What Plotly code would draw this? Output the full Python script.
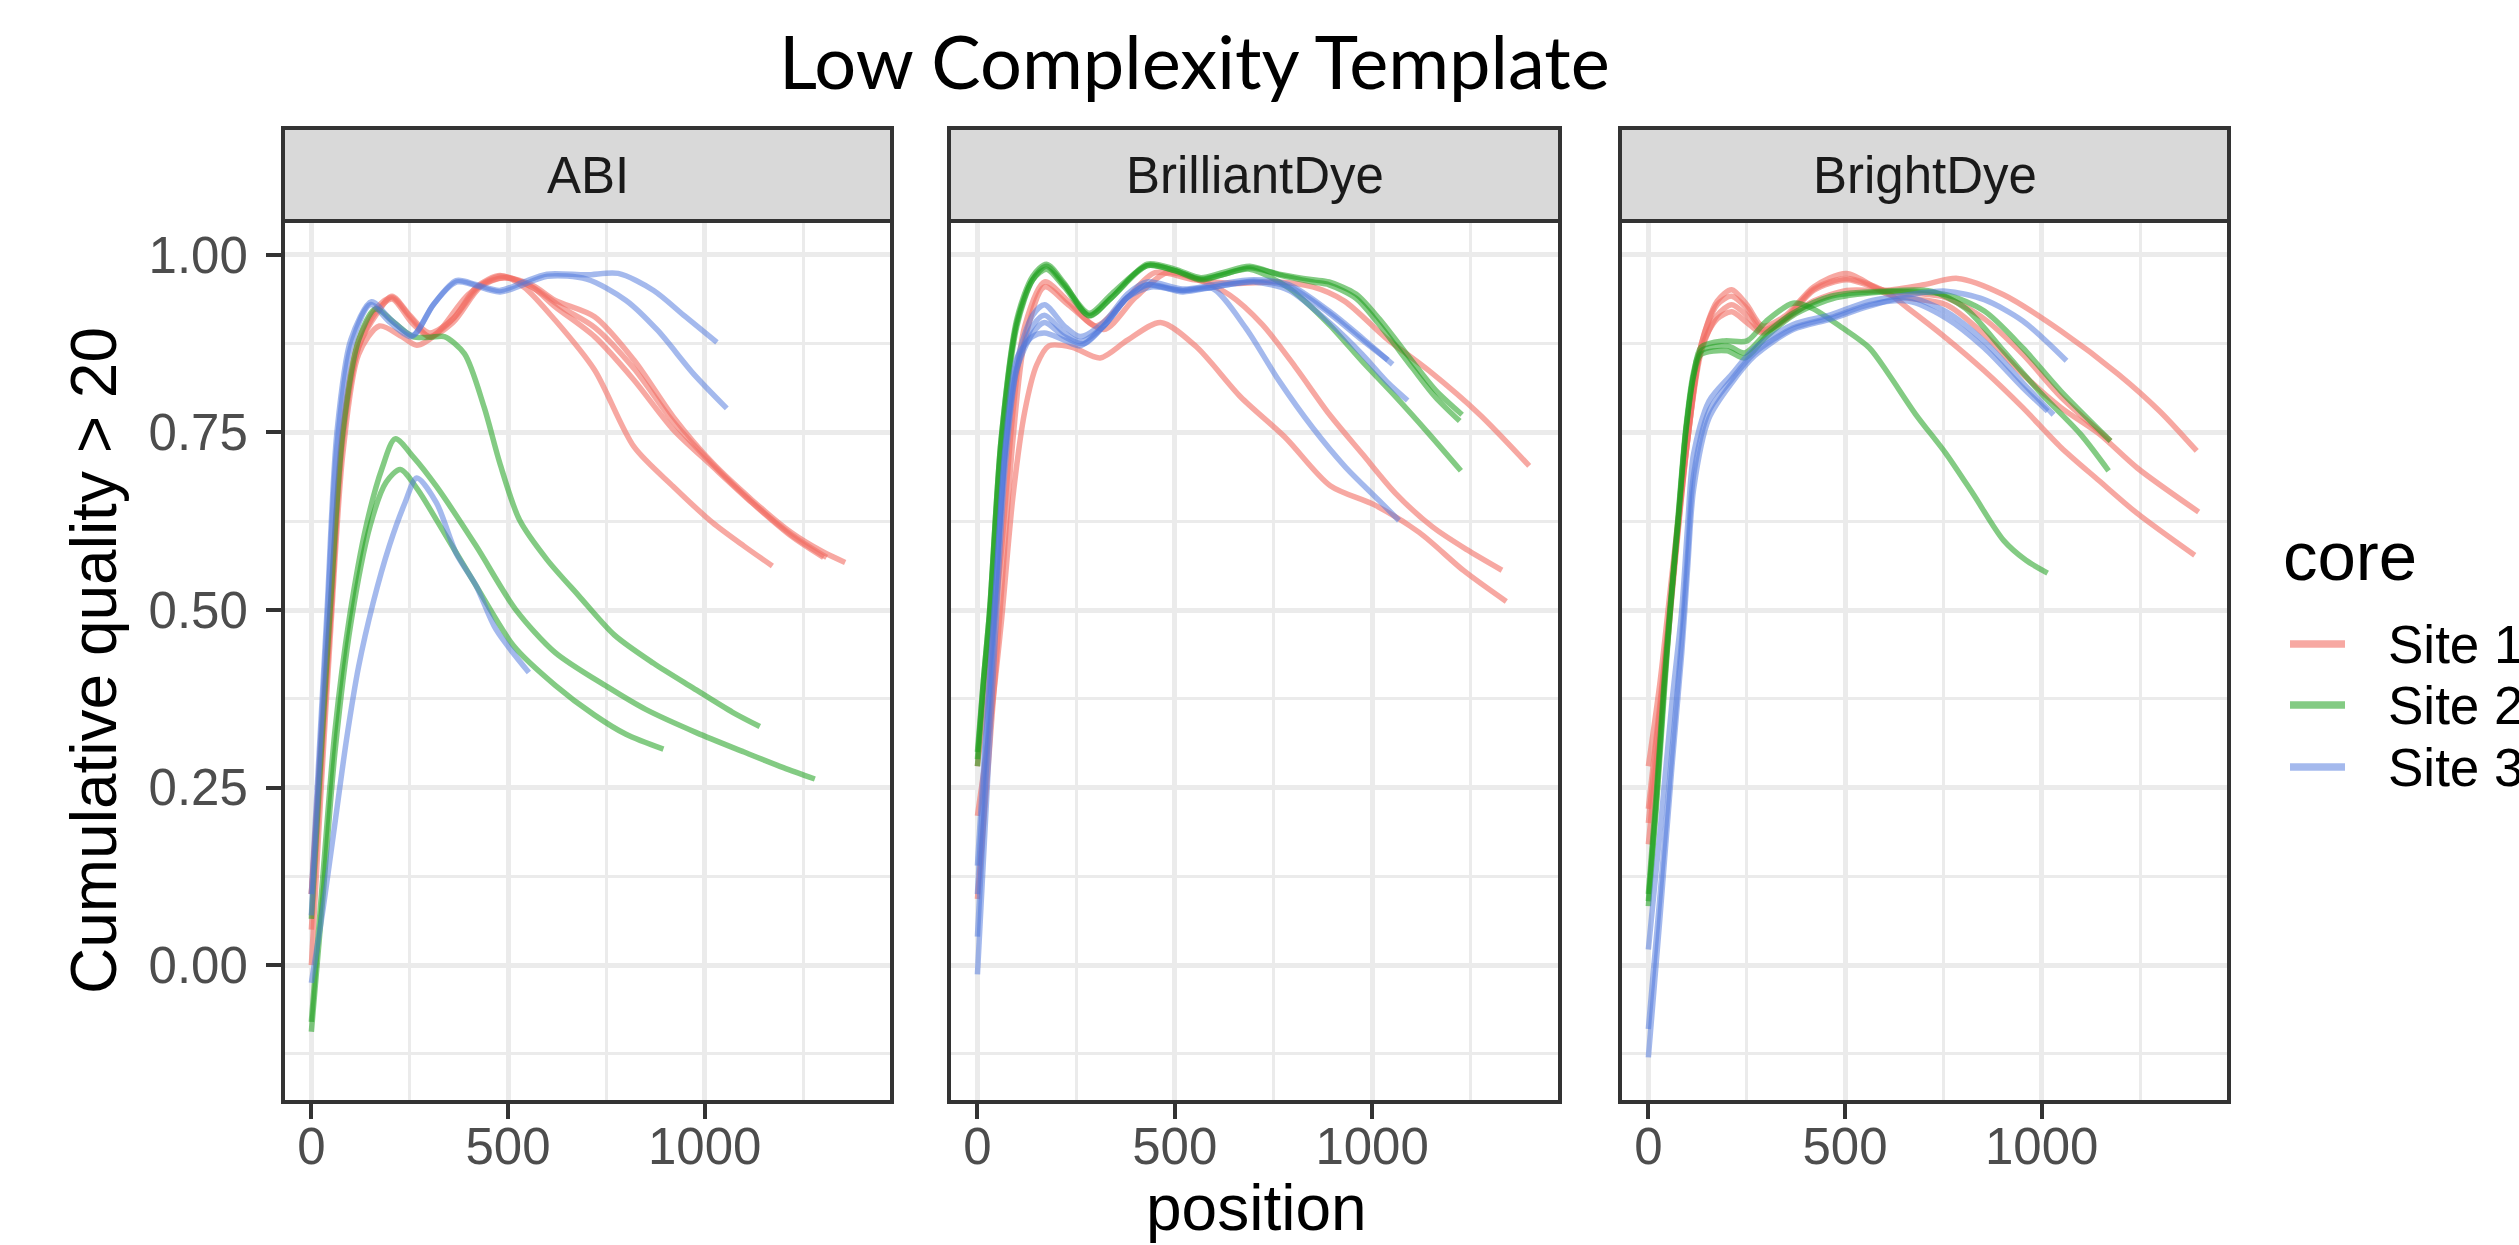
import plotly.graph_objects as go

W, H = 2519, 1245

# ---------------- data ----------------
FACETS = ["ABI", "BrilliantDye", "BrightDye"]
SITES = ["Site 1", "Site 2", "Site 3"]
SITE_COLORS = ["rgba(242,110,100,0.6)", "rgba(30,160,30,0.55)", "rgba(80,120,220,0.52)"]
X_TICKS = [0, 500, 1000]
X_MINOR = [250, 750, 1250]
Y_TICKS = [0.0, 0.25, 0.5, 0.75, 1.0]
Y_MINOR = [-0.125, 0.125, 0.375, 0.625, 0.875]
TITLE = "Low Complexity Template"
X_TITLE = "position"
Y_TITLE = "Cumulative quality > 20"
LEGEND_TITLE = "core"

# ABI, Site 1
ABI_S1_A_X = [0, 25, 50, 80, 120, 170, 205, 250, 300, 360, 420, 480, 540, 620, 720, 820, 920, 1020, 1100, 1172]
ABI_S1_A_Y = [0.10, 0.30, 0.50, 0.75, 0.87, 0.92, 0.942, 0.915, 0.89, 0.91, 0.955, 0.971, 0.955, 0.908, 0.838, 0.73, 0.674, 0.623, 0.59, 0.562]
ABI_S1_B_X = [0, 25, 50, 80, 120, 173, 230, 268, 320, 400, 480, 560, 620, 720, 820, 920, 1020, 1120, 1220, 1302]
ABI_S1_B_Y = [0.0, 0.25, 0.48, 0.72, 0.86, 0.90, 0.885, 0.873, 0.89, 0.945, 0.97, 0.955, 0.927, 0.885, 0.824, 0.754, 0.702, 0.651, 0.604, 0.574]
ABI_S1_C_X = [0, 25, 50, 80, 120, 165, 205, 255, 300, 360, 430, 490, 560, 620, 720, 820, 920, 1020, 1120, 1220, 1300, 1357]
ABI_S1_C_Y = [0.10, 0.32, 0.52, 0.76, 0.88, 0.925, 0.94, 0.91, 0.885, 0.905, 0.955, 0.968, 0.958, 0.936, 0.913, 0.852, 0.772, 0.707, 0.655, 0.609, 0.582, 0.567]
ABI_S1_D_X = [0, 25, 50, 80, 120, 165, 205, 255, 300, 360, 430, 490, 560, 640, 720, 820, 920, 1020, 1120, 1220, 1310]
ABI_S1_D_Y = [0.05, 0.28, 0.50, 0.74, 0.87, 0.92, 0.938, 0.905, 0.885, 0.91, 0.957, 0.968, 0.955, 0.925, 0.898, 0.84, 0.765, 0.705, 0.652, 0.606, 0.574]
# ABI, Site 2
ABI_S2_A_X = [0, 25, 50, 80, 120, 163, 210, 258, 300, 338, 389, 439, 479, 529, 599, 680, 770, 870, 971, 1071, 1140]
ABI_S2_A_Y = [0.065, 0.30, 0.52, 0.75, 0.88, 0.924, 0.905, 0.885, 0.884, 0.885, 0.861, 0.786, 0.707, 0.627, 0.571, 0.52, 0.465, 0.425, 0.39, 0.356, 0.336]
ABI_S2_B_X = [0, 30, 60, 97, 140, 180, 213, 260, 318, 419, 519, 620, 752, 850, 980, 1100, 1200, 1280]
ABI_S2_B_Y = [-0.08, 0.13, 0.33, 0.49, 0.62, 0.70, 0.741, 0.715, 0.674, 0.59, 0.501, 0.44, 0.392, 0.36, 0.327, 0.30, 0.278, 0.262]
ABI_S2_C_X = [0, 30, 60, 100, 150, 190, 226, 270, 318, 419, 515, 620, 720, 800, 895]
ABI_S2_C_Y = [-0.094, 0.10, 0.30, 0.48, 0.62, 0.68, 0.698, 0.67, 0.627, 0.534, 0.449, 0.394, 0.352, 0.325, 0.304]
# ABI, Site 3
ABI_S3_A_X = [0, 20, 40, 65, 100, 153, 200, 258, 310, 368, 420, 479, 540, 599, 700, 780, 870, 951, 1031]
ABI_S3_A_Y = [0.10, 0.30, 0.50, 0.75, 0.88, 0.934, 0.91, 0.887, 0.93, 0.964, 0.958, 0.95, 0.962, 0.973, 0.972, 0.974, 0.95, 0.913, 0.877]
ABI_S3_B_X = [0, 20, 40, 65, 100, 150, 200, 255, 310, 370, 480, 600, 700, 800, 880, 971, 1056]
ABI_S3_B_Y = [0.07, 0.28, 0.48, 0.73, 0.87, 0.93, 0.905, 0.885, 0.93, 0.962, 0.948, 0.97, 0.966, 0.936, 0.894, 0.833, 0.784]
ABI_S3_C_X = [0, 30, 60, 90, 120, 157, 198, 238, 268, 318, 368, 419, 469, 553]
ABI_S3_C_Y = [-0.025, 0.08, 0.20, 0.32, 0.42, 0.51, 0.59, 0.651, 0.686, 0.651, 0.58, 0.534, 0.473, 0.412]

# BrilliantDye, Site 1
BRL_S1_A_X = [0, 30, 60, 90, 120, 150, 181, 240, 311, 380, 464, 554, 667, 780, 894, 1006, 1120, 1233, 1340]
BRL_S1_A_Y = [0.21, 0.33, 0.48, 0.66, 0.78, 0.845, 0.872, 0.87, 0.855, 0.88, 0.905, 0.871, 0.80, 0.743, 0.675, 0.648, 0.609, 0.555, 0.512]
BRL_S1_B_X = [0, 30, 60, 90, 120, 170, 230, 320, 400, 480, 560, 638, 722, 807, 891, 975, 1060, 1153, 1240, 1329]
BRL_S1_B_Y = [0.093, 0.30, 0.52, 0.74, 0.88, 0.955, 0.93, 0.895, 0.94, 0.975, 0.965, 0.944, 0.902, 0.841, 0.776, 0.72, 0.664, 0.617, 0.585, 0.556]
BRL_S1_C_X = [0, 30, 60, 90, 120, 170, 230, 300, 380, 450, 550, 650, 760, 850, 930, 1035, 1144, 1271, 1398]
BRL_S1_C_Y = [0.28, 0.42, 0.58, 0.78, 0.90, 0.962, 0.935, 0.90, 0.94, 0.975, 0.965, 0.96, 0.962, 0.955, 0.935, 0.883, 0.837, 0.776, 0.703]
# BrilliantDye, Site 2
BRL_S2_A_X = [0, 15, 31, 60, 100, 140, 175, 220, 283, 340, 430, 500, 566, 620, 690, 764, 850, 891, 959, 1018, 1102, 1160, 1222]
BRL_S2_A_Y = [0.30, 0.40, 0.50, 0.74, 0.91, 0.97, 0.987, 0.96, 0.914, 0.94, 0.987, 0.98, 0.968, 0.975, 0.984, 0.972, 0.962, 0.958, 0.939, 0.902, 0.841, 0.80, 0.766]
BRL_S2_B_X = [0, 15, 31, 60, 100, 140, 175, 220, 283, 340, 430, 500, 566, 620, 690, 764, 850, 891, 959, 1018, 1102, 1160, 1228]
BRL_S2_B_Y = [0.28, 0.39, 0.49, 0.73, 0.90, 0.965, 0.984, 0.958, 0.918, 0.945, 0.985, 0.978, 0.966, 0.972, 0.982, 0.973, 0.965, 0.962, 0.945, 0.91, 0.85, 0.81, 0.775]
BRL_S2_C_X = [0, 15, 31, 60, 100, 140, 175, 220, 283, 340, 430, 500, 566, 620, 690, 790, 891, 975, 1060, 1144, 1225]
BRL_S2_C_Y = [0.29, 0.40, 0.50, 0.74, 0.905, 0.965, 0.98, 0.955, 0.915, 0.94, 0.985, 0.978, 0.965, 0.972, 0.98, 0.953, 0.902, 0.85, 0.80, 0.748, 0.696]
# BrilliantDye, Site 3
BRL_S3_A_X = [0, 20, 45, 70, 100, 140, 170, 220, 260, 320, 380, 430, 520, 600, 700, 790, 891, 975, 1052]
BRL_S3_A_Y = [0.04, 0.25, 0.50, 0.72, 0.85, 0.915, 0.93, 0.90, 0.885, 0.905, 0.945, 0.962, 0.952, 0.958, 0.965, 0.958, 0.921, 0.883, 0.846]
BRL_S3_B_X = [0, 20, 45, 70, 100, 140, 170, 220, 260, 320, 380, 430, 520, 600, 700, 790, 891, 975, 1040, 1090]
BRL_S3_B_Y = [-0.013, 0.20, 0.46, 0.70, 0.84, 0.90, 0.915, 0.89, 0.878, 0.90, 0.94, 0.958, 0.948, 0.955, 0.962, 0.95, 0.905, 0.86, 0.82, 0.795]
BRL_S3_C_X = [0, 20, 45, 70, 100, 140, 170, 220, 270, 320, 380, 440, 520, 595, 680, 764, 849, 933, 1018, 1068]
BRL_S3_C_Y = [0.14, 0.32, 0.52, 0.72, 0.84, 0.89, 0.905, 0.885, 0.875, 0.90, 0.94, 0.955, 0.95, 0.953, 0.897, 0.823, 0.757, 0.701, 0.654, 0.626]
BRL_S3_D_X = [0, 20, 45, 70, 100, 140, 170, 220, 260, 320, 380, 430, 520, 600, 700, 790, 891, 975, 1040]
BRL_S3_D_Y = [0.10, 0.30, 0.52, 0.73, 0.855, 0.885, 0.89, 0.88, 0.872, 0.90, 0.94, 0.958, 0.95, 0.955, 0.963, 0.955, 0.918, 0.88, 0.852]

# BrightDye, Site 1
BRT_S1_A_X = [0, 30, 60, 100, 135, 175, 212, 250, 290, 350, 420, 504, 601, 700, 786, 903, 1049, 1195, 1300, 1394]
BRT_S1_A_Y = [0.28, 0.40, 0.55, 0.74, 0.87, 0.91, 0.92, 0.905, 0.89, 0.91, 0.935, 0.95, 0.95, 0.958, 0.967, 0.944, 0.893, 0.832, 0.78, 0.724]
BRT_S1_B_X = [0, 30, 60, 100, 135, 175, 212, 250, 290, 350, 420, 504, 611, 757, 854, 952, 1049, 1146, 1243, 1399]
BRT_S1_B_Y = [0.17, 0.34, 0.52, 0.74, 0.875, 0.935, 0.951, 0.93, 0.90, 0.915, 0.955, 0.974, 0.944, 0.93, 0.888, 0.832, 0.785, 0.748, 0.70, 0.638]
BRT_S1_C_X = [0, 30, 60, 100, 135, 175, 212, 250, 290, 350, 420, 504, 601, 660, 757, 854, 952, 1049, 1146, 1243, 1389]
BRT_S1_C_Y = [0.20, 0.36, 0.53, 0.75, 0.875, 0.93, 0.942, 0.925, 0.895, 0.912, 0.952, 0.967, 0.949, 0.925, 0.883, 0.837, 0.785, 0.729, 0.682, 0.636, 0.577]
BRT_S1_D_X = [0, 30, 60, 100, 135, 175, 212, 250, 290, 350, 420, 504, 601, 700, 757, 854, 952, 1049, 1175]
BRT_S1_D_Y = [0.22, 0.37, 0.53, 0.74, 0.865, 0.915, 0.93, 0.915, 0.892, 0.91, 0.95, 0.965, 0.95, 0.945, 0.94, 0.91, 0.86, 0.80, 0.738]
# BrightDye, Site 2
BRT_S2_A_X = [0, 20, 40, 56, 76, 95, 115, 134, 193, 251, 300, 368, 416, 494, 562, 611, 679, 757, 825, 903, 960, 1015]
BRT_S2_A_Y = [0.083, 0.22, 0.38, 0.50, 0.625, 0.75, 0.83, 0.87, 0.879, 0.879, 0.907, 0.932, 0.925, 0.897, 0.869, 0.832, 0.776, 0.72, 0.664, 0.598, 0.57, 0.552]
BRT_S2_B_X = [0, 20, 40, 56, 76, 95, 115, 134, 200, 245, 300, 368, 465, 601, 718, 806, 903, 1000, 1098, 1170]
BRT_S2_B_Y = [0.10, 0.24, 0.40, 0.51, 0.635, 0.755, 0.835, 0.865, 0.872, 0.862, 0.89, 0.918, 0.942, 0.949, 0.949, 0.925, 0.865, 0.804, 0.748, 0.696]
BRT_S2_C_X = [0, 20, 40, 56, 76, 95, 115, 134, 200, 245, 300, 368, 465, 601, 757, 854, 952, 1049, 1175]
BRT_S2_C_Y = [0.09, 0.23, 0.39, 0.50, 0.63, 0.75, 0.83, 0.86, 0.865, 0.855, 0.885, 0.915, 0.938, 0.948, 0.944, 0.921, 0.869, 0.808, 0.738]
# BrightDye, Site 3
BRT_S3_A_X = [0, 30, 60, 85, 100, 115, 154, 212, 270, 368, 465, 562, 660, 757, 854, 952, 1063]
BRT_S3_A_Y = [0.022, 0.19, 0.37, 0.50, 0.62, 0.72, 0.794, 0.832, 0.869, 0.902, 0.916, 0.935, 0.944, 0.949, 0.937, 0.907, 0.851]
BRT_S3_B_X = [0, 30, 60, 85, 100, 115, 154, 212, 270, 368, 465, 562, 660, 757, 854, 952, 1015]
BRT_S3_B_Y = [-0.09, 0.10, 0.30, 0.46, 0.58, 0.69, 0.78, 0.825, 0.862, 0.897, 0.912, 0.93, 0.935, 0.911, 0.869, 0.813, 0.78]
BRT_S3_C_X = [0, 30, 60, 85, 100, 115, 154, 212, 270, 368, 465, 562, 660, 757, 854, 952, 1030]
BRT_S3_C_Y = [-0.13, 0.07, 0.28, 0.44, 0.56, 0.67, 0.77, 0.82, 0.858, 0.895, 0.91, 0.928, 0.94, 0.92, 0.878, 0.82, 0.775]

CURVES = [
    (0, 0, ABI_S1_A_X, ABI_S1_A_Y), (0, 0, ABI_S1_B_X, ABI_S1_B_Y),
    (0, 0, ABI_S1_C_X, ABI_S1_C_Y), (0, 0, ABI_S1_D_X, ABI_S1_D_Y),
    (0, 1, ABI_S2_A_X, ABI_S2_A_Y), (0, 1, ABI_S2_B_X, ABI_S2_B_Y),
    (0, 1, ABI_S2_C_X, ABI_S2_C_Y),
    (0, 2, ABI_S3_A_X, ABI_S3_A_Y), (0, 2, ABI_S3_B_X, ABI_S3_B_Y),
    (0, 2, ABI_S3_C_X, ABI_S3_C_Y),
    (1, 0, BRL_S1_A_X, BRL_S1_A_Y), (1, 0, BRL_S1_B_X, BRL_S1_B_Y),
    (1, 0, BRL_S1_C_X, BRL_S1_C_Y),
    (1, 1, BRL_S2_A_X, BRL_S2_A_Y), (1, 1, BRL_S2_B_X, BRL_S2_B_Y),
    (1, 1, BRL_S2_C_X, BRL_S2_C_Y),
    (1, 2, BRL_S3_A_X, BRL_S3_A_Y), (1, 2, BRL_S3_B_X, BRL_S3_B_Y),
    (1, 2, BRL_S3_C_X, BRL_S3_C_Y), (1, 2, BRL_S3_D_X, BRL_S3_D_Y),
    (2, 0, BRT_S1_A_X, BRT_S1_A_Y), (2, 0, BRT_S1_B_X, BRT_S1_B_Y),
    (2, 0, BRT_S1_C_X, BRT_S1_C_Y), (2, 0, BRT_S1_D_X, BRT_S1_D_Y),
    (2, 1, BRT_S2_A_X, BRT_S2_A_Y), (2, 1, BRT_S2_B_X, BRT_S2_B_Y),
    (2, 1, BRT_S2_C_X, BRT_S2_C_Y),
    (2, 2, BRT_S3_A_X, BRT_S3_A_Y), (2, 2, BRT_S3_B_X, BRT_S3_B_Y),
    (2, 2, BRT_S3_C_X, BRT_S3_C_Y),
]

# ---------------- layout geometry (pixels) ----------------
PANEL_X = [(285, 890), (951, 1558), (1622, 2227)]
STRIP_TOP, PLOT_TOP, PLOT_BOTTOM = 128, 223, 1100
X_RANGE = [-67, 1471]
Y_RANGE = [-0.190, 1.045]

FONT = "Liberation Sans, Arial, sans-serif"
SMALL, LARGE = 51, 64
GRID = "#EBEBEB"
DARK = "#333333"


def fx(v):
    return v / W


def fy(v):
    return 1 - v / H


fig = go.Figure()

for fi, si, xs, ys in CURVES:
    sfx = "" if fi == 0 else str(fi + 1)
    fig.add_trace(go.Scatter(
        x=xs, y=ys, mode="lines", xaxis="x" + sfx, yaxis="y" + sfx,
        line=dict(color=SITE_COLORS[si], width=5.5, shape="spline", smoothing=0.8),
        name=SITES[si], showlegend=False, hoverinfo="skip"))

layout = dict(
    width=W, height=H, autosize=False,
    margin=dict(l=0, r=0, t=0, b=0, pad=0),
    paper_bgcolor="white", plot_bgcolor="white",
    font=dict(family=FONT, size=SMALL, color="#4D4D4D"),
    showlegend=False,
)

shapes = []
annotations = []
for i, (x0, x1) in enumerate(PANEL_X):
    sfx = "" if i == 0 else str(i + 1)
    layout["xaxis" + sfx] = dict(
        domain=[fx(x0), fx(x1)], anchor="y" + sfx, range=X_RANGE,
        tickmode="array", tickvals=X_TICKS, ticktext=[str(v) for v in X_TICKS],
        ticks="outside", ticklen=15, tickwidth=4, tickcolor=DARK,
        ticklabelstandoff=-16,
        tickfont=dict(family=FONT, size=SMALL, color="#4D4D4D"),
        showgrid=True, gridcolor=GRID, gridwidth=4.5,
        minor=dict(tickmode="array", tickvals=X_MINOR, showgrid=True, gridcolor=GRID, gridwidth=2.5, ticks=""),
        showline=True, mirror=True, linecolor=DARK, linewidth=4,
        zeroline=False, fixedrange=True,
    )
    layout["yaxis" + sfx] = dict(
        domain=[fy(PLOT_BOTTOM), fy(PLOT_TOP)], anchor="x" + sfx, range=Y_RANGE,
        tickmode="array", tickvals=Y_TICKS, ticktext=["%.2f" % v for v in Y_TICKS],
        ticks="outside" if i == 0 else "", ticklen=15, tickwidth=4, tickcolor=DARK,
        ticklabelstandoff=8,
        showticklabels=(i == 0),
        tickfont=dict(family=FONT, size=SMALL, color="#4D4D4D"),
        showgrid=True, gridcolor=GRID, gridwidth=4.5,
        minor=dict(tickmode="array", tickvals=Y_MINOR, showgrid=True, gridcolor=GRID, gridwidth=2.5, ticks=""),
        showline=True, mirror=True, linecolor=DARK, linewidth=4,
        zeroline=False, fixedrange=True,
    )
    # facet strip
    shapes.append(dict(type="rect", xref="paper", yref="paper",
                       x0=fx(x0 - 2), x1=fx(x1 + 2), y0=fy(PLOT_TOP - 2), y1=fy(STRIP_TOP),
                       fillcolor="#D9D9D9", line=dict(color=DARK, width=4), layer="above"))
    annotations.append(dict(text=FACETS[i], xref="paper", yref="paper",
                            x=fx((x0 + x1) / 2), y=fy((STRIP_TOP + PLOT_TOP) / 2),
                            xanchor="center", yanchor="middle", showarrow=False,
                            font=dict(family=FONT, size=SMALL, color="#1A1A1A")))

# titles
annotations.append(dict(text=TITLE, xref="paper", yref="paper", x=fx(1194), y=fy(60),
                        xanchor="center", yanchor="middle", showarrow=False,
                        font=dict(family="Lato, Open Sans, sans-serif", size=74, color="black")))
annotations.append(dict(text=X_TITLE, xref="paper", yref="paper", x=fx(1256), y=fy(1208),
                        xanchor="center", yanchor="middle", showarrow=False,
                        font=dict(family=FONT, size=LARGE, color="black")))
annotations.append(dict(text=Y_TITLE, xref="paper", yref="paper", x=fx(94), y=fy(661),
                        xanchor="center", yanchor="middle", showarrow=False, textangle=-90,
                        font=dict(family=FONT, size=LARGE, color="black")))

# legend (drawn as key lines + labels)
annotations.append(dict(text=LEGEND_TITLE, xref="paper", yref="paper", x=fx(2281), y=fy(556),
                        xanchor="left", yanchor="middle", showarrow=False,
                        font=dict(family=FONT, size=69, color="black")))
LEG_Y = [644, 705, 767]
for si, site in enumerate(SITES):
    shapes.append(dict(type="line", xref="paper", yref="paper",
                       x0=fx(2290), x1=fx(2345), y0=fy(LEG_Y[si]), y1=fy(LEG_Y[si]),
                       line=dict(color=SITE_COLORS[si], width=7.5)))
    annotations.append(dict(text=site, xref="paper", yref="paper", x=fx(2386), y=fy(LEG_Y[si]),
                            xanchor="left", yanchor="middle", showarrow=False,
                            font=dict(family=FONT, size=SMALL + 2, color="black")))

layout["shapes"] = shapes
layout["annotations"] = annotations
fig.update_layout(**layout)

fig.write_html("out.html", config={"displayModeBar": False},
               post_script="document.body.style.margin='0px';document.body.style.overflow='hidden';")
